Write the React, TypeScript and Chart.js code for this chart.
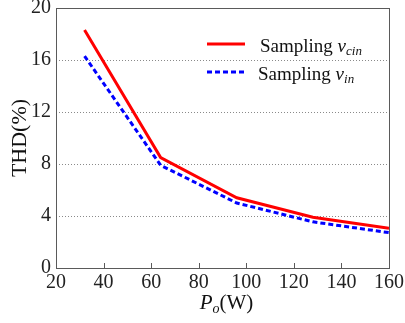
import React, { useEffect, useRef } from "react";
import { Chart, registerables } from "chart.js";

Chart.register(...registerables);

const powerW = [32, 64, 96, 128, 160];
const thdVcin = [18.3, 8.5, 5.4, 3.9, 3.05];
const thdVin = [16.3, 7.9, 5.0, 3.55, 2.72];
const yGridValues = [4, 8, 12, 16];
const xTickValues = [40, 60, 80, 100, 120, 140];

const SERIF = '"Liberation Serif", "Times New Roman", serif';

const decorPlugin = {
  id: "decor",
  beforeDatasetsDraw(chart: any) {
    const { ctx, chartArea: a, scales } = chart;
    const y = scales.y;
    ctx.save();
    ctx.strokeStyle = "#8a8a8a";
    ctx.lineWidth = 1;
    ctx.setLineDash([1, 2]);
    for (const v of yGridValues) {
      const py = Math.round(y.getPixelForValue(v)) + 0.5;
      ctx.beginPath();
      ctx.moveTo(a.left, py);
      ctx.lineTo(a.right, py);
      ctx.stroke();
    }
    ctx.restore();
  },
  afterDraw(chart: any) {
    const { ctx, chartArea: a, scales } = chart;
    const x = scales.x;
    ctx.save();
    // frame
    ctx.strokeStyle = "#5a5a5a";
    ctx.lineWidth = 1;
    ctx.setLineDash([]);
    ctx.strokeRect(Math.round(a.left) + 0.5, Math.round(a.top) + 0.5, Math.round(a.right - a.left), Math.round(a.bottom - a.top));
    // inner ticks
    for (const v of xTickValues) {
      const px = Math.round(x.getPixelForValue(v)) + 0.5;
      ctx.beginPath();
      ctx.moveTo(px, a.bottom);
      ctx.lineTo(px, a.bottom - 5);
      ctx.stroke();
    }

    // legend
    ctx.lineWidth = 3;
    ctx.strokeStyle = "#ff0000";
    ctx.beginPath();
    ctx.moveTo(207, 44);
    ctx.lineTo(245, 44);
    ctx.stroke();
    ctx.strokeStyle = "#0000ff";
    ctx.setLineDash([5, 3]);
    ctx.beginPath();
    ctx.moveTo(207, 72);
    ctx.lineTo(245, 72);
    ctx.stroke();
    ctx.setLineDash([]);

    ctx.fillStyle = "#111";
    ctx.textBaseline = "alphabetic";
    ctx.textAlign = "left";
    const drawLabel = (x0: number, base: number, sub: string) => {
      ctx.font = `19px ${SERIF}`;
      ctx.fillText("Sampling ", x0, base);
      let cx = x0 + ctx.measureText("Sampling ").width;
      ctx.font = `italic 19px ${SERIF}`;
      ctx.fillText("v", cx, base);
      cx += ctx.measureText("v").width;
      ctx.font = `italic 13px ${SERIF}`;
      ctx.fillText(sub, cx, base + 3);
    };
    drawLabel(260, 52, "cin");
    drawLabel(258, 80, "in");

    // x title
    ctx.font = `italic 21px ${SERIF}`;
    const wP = ctx.measureText("P").width;
    ctx.font = `italic 14px ${SERIF}`;
    const wo = ctx.measureText("o").width;
    ctx.font = `21px ${SERIF}`;
    const wW = ctx.measureText("(W)").width;
    const total = wP + wo + wW;
    let tx = (a.left + a.right) / 2 + 4 - total / 2;
    const tb = 309;
    ctx.font = `italic 21px ${SERIF}`;
    ctx.fillText("P", tx, tb);
    tx += wP;
    ctx.font = `italic 14px ${SERIF}`;
    ctx.fillText("o", tx, tb + 4);
    tx += wo;
    ctx.font = `21px ${SERIF}`;
    ctx.fillText("(W)", tx, tb);

    // y title
    ctx.translate(20, (a.top + a.bottom) / 2);
    ctx.rotate(-Math.PI / 2);
    ctx.textAlign = "center";
    ctx.textBaseline = "middle";
    ctx.font = `22px ${SERIF}`;
    ctx.fillText("THD(%)", 0, 0);
    ctx.restore();
  },
};

export default function App() {
  const ref = useRef<HTMLCanvasElement>(null);
  useEffect(() => {
    if (!ref.current) return;
    const chart = new Chart(ref.current, {
      type: "line",
      data: {
        datasets: [
          {
            label: "Sampling vcin",
            data: powerW.map((p, i) => ({ x: p, y: thdVcin[i] })),
            borderColor: "#ff0000",
            borderWidth: 3,
            pointRadius: 0,
            tension: 0,
          },
          {
            label: "Sampling vin",
            data: powerW.map((p, i) => ({ x: p, y: thdVin[i] })),
            borderColor: "#0000ff",
            borderWidth: 3,
            borderDash: [5, 3],
            pointRadius: 0,
            tension: 0,
          },
        ],
      },
      options: {
        animation: false,
        responsive: true,
        maintainAspectRatio: false,
        layout: { padding: { top: 8, right: 16, left: 0, bottom: 0 } },
        plugins: { legend: { display: false }, tooltip: { enabled: false } },
        scales: {
          x: {
            type: "linear",
            min: 20,
            max: 160,
            afterFit: (s: any) => {
              s.height = 55;
              s.paddingLeft = 0;
              s.paddingRight = 0;
            },
            ticks: {
              stepSize: 20,
              padding: 3,
              color: "#222",
              font: { family: SERIF, size: 20 },
              maxRotation: 0,
            },
            grid: { display: false, drawTicks: false },
            border: { display: false },
          },
          y: {
            min: 0,
            max: 20,
            afterFit: (s: any) => {
              s.width = 56;
              s.paddingTop = 0;
              s.paddingBottom = 0;
            },
            ticks: {
              stepSize: 4,
              padding: 5,
              color: "#222",
              font: { family: SERIF, size: 20 },
            },
            grid: { display: false, drawTicks: false },
            border: { display: false },
          },
        },
      },
      plugins: [decorPlugin],
    });
    return () => chart.destroy();
  }, []);
  return (
    <div style={{ position: "fixed", left: 0, top: 0, width: 405, height: 323, background: "#fff" }}>
      <canvas ref={ref} />
    </div>
  );
}
